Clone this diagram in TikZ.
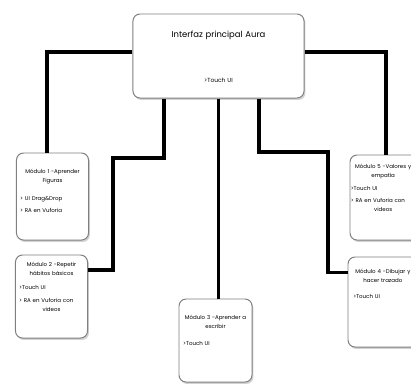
\documentclass[tikz,border=0pt]{standalone}
\usepackage{fontspec}
\setmainfont{Poppins}
\usetikzlibrary{positioning,shadows}
\definecolor{Frame}{HTML}{7F7F7F}
\definecolor{Shade}{HTML}{A6A6A6}

\begin{document}
\begin{tikzpicture}[x=0.025cm,y=-0.025cm,
          box/.style={draw=Frame,line width=0.7pt,fill=white,rounded corners=5pt,
            drop shadow={shadow xshift=1pt,shadow yshift=-1.4pt,fill=Shade}},
          module/.style={box,minimum width=1.8cm},
          txt/.style={inner sep=0pt,text width=1.62cm,align=left,
            font=\fontsize{3.9}{6.4}\selectfont},
          link/.style={line width=2.8pt}]
        \path[use as bounding box,clip] (0,0) rectangle (411,383);
        % main interface
        \node[box,minimum width=4.275cm,minimum height=2.1cm] (main) at (218.5,56) {};
        \node[txt,text width=4cm,align=center,font=\fontsize{6}{7}\selectfont,
          below=12pt of main.north] (maintitle) {Interfaz principal Aura};
        \node[txt,align=center,font=\fontsize{4.2}{6}\selectfont,
          above=11pt of main.south] (maintouch) {>Touch UI};
        % modules
        \node[module,minimum height=2.175cm] (m1) at (52.5,196.5) {};
        \node[txt,below=12pt of m1.north] (m1txt)
          {{\centering Módulo 1 -Aprender\\Figuras\par}\vspace{6pt}
           > UI Drag\&Drop\\[2.5pt]
           > RA en Vuforia};
        \node[module,minimum height=2.075cm] (m2) at (51.5,296.5) {};
        \node[txt,below=5pt of m2.north] (m2txt)
          {{\centering Módulo 2 -Repetir\\hábitos básicos\par}\vspace{4pt}
           >Touch UI\\[2.5pt]
           > RA en Vuforia con\par
           {\centering videos\par}};
        \node[module,minimum width=1.825cm,minimum height=2.075cm] (m3) at (215.5,340.5) {};
        \node[txt,below=11.5pt of m3.north] (m3txt)
          {{\centering Módulo 3 -Aprender a\\escribir\par}\vspace{6pt}
           >Touch UI};
        \node[module,minimum height=2.25cm,minimum width=1.85cm] (m4) at (385,302) {};
        \node[txt,below=8.5pt of m4.north,xshift=-1.5pt] (m4txt)
          {{\centering Módulo 4 -Dibujar y\\hacer trazado\par}\vspace{5pt}
           \hspace*{2pt}>Touch UI};
        \node[module,minimum height=2.125cm] (m5) at (386,197.5) {};
        \node[txt,below=6.5pt of m5.north,xshift=-2pt] (m5txt)
          {{\centering Módulo 5 -Valores y\\empatía\par}\vspace{3pt}
           >Touch UI\\[2.5pt]
           > RA en Vuforia con\par
           {\centering videos\par}};
        % connectors
        \coordinate (bend2) at (113,158);
        \coordinate (bend4) at (328,152);
        \draw[link] ([yshift=3pt]main.west) -| ([xshift=-4pt]m1.north);
        \draw[link] ([xshift=-39pt]main.south) |- (bend2) |- ([yshift=19pt]m2.east);
        \draw[link] (main.south) -- (main.south |- m3.north);
        \draw[link] ([xshift=28.7pt]main.south) |- (bend4) |- ([yshift=21pt]m4.west);
        \draw[link] ([yshift=3pt]main.east) -| (m5.north);
      \end{tikzpicture}
\end{document}
